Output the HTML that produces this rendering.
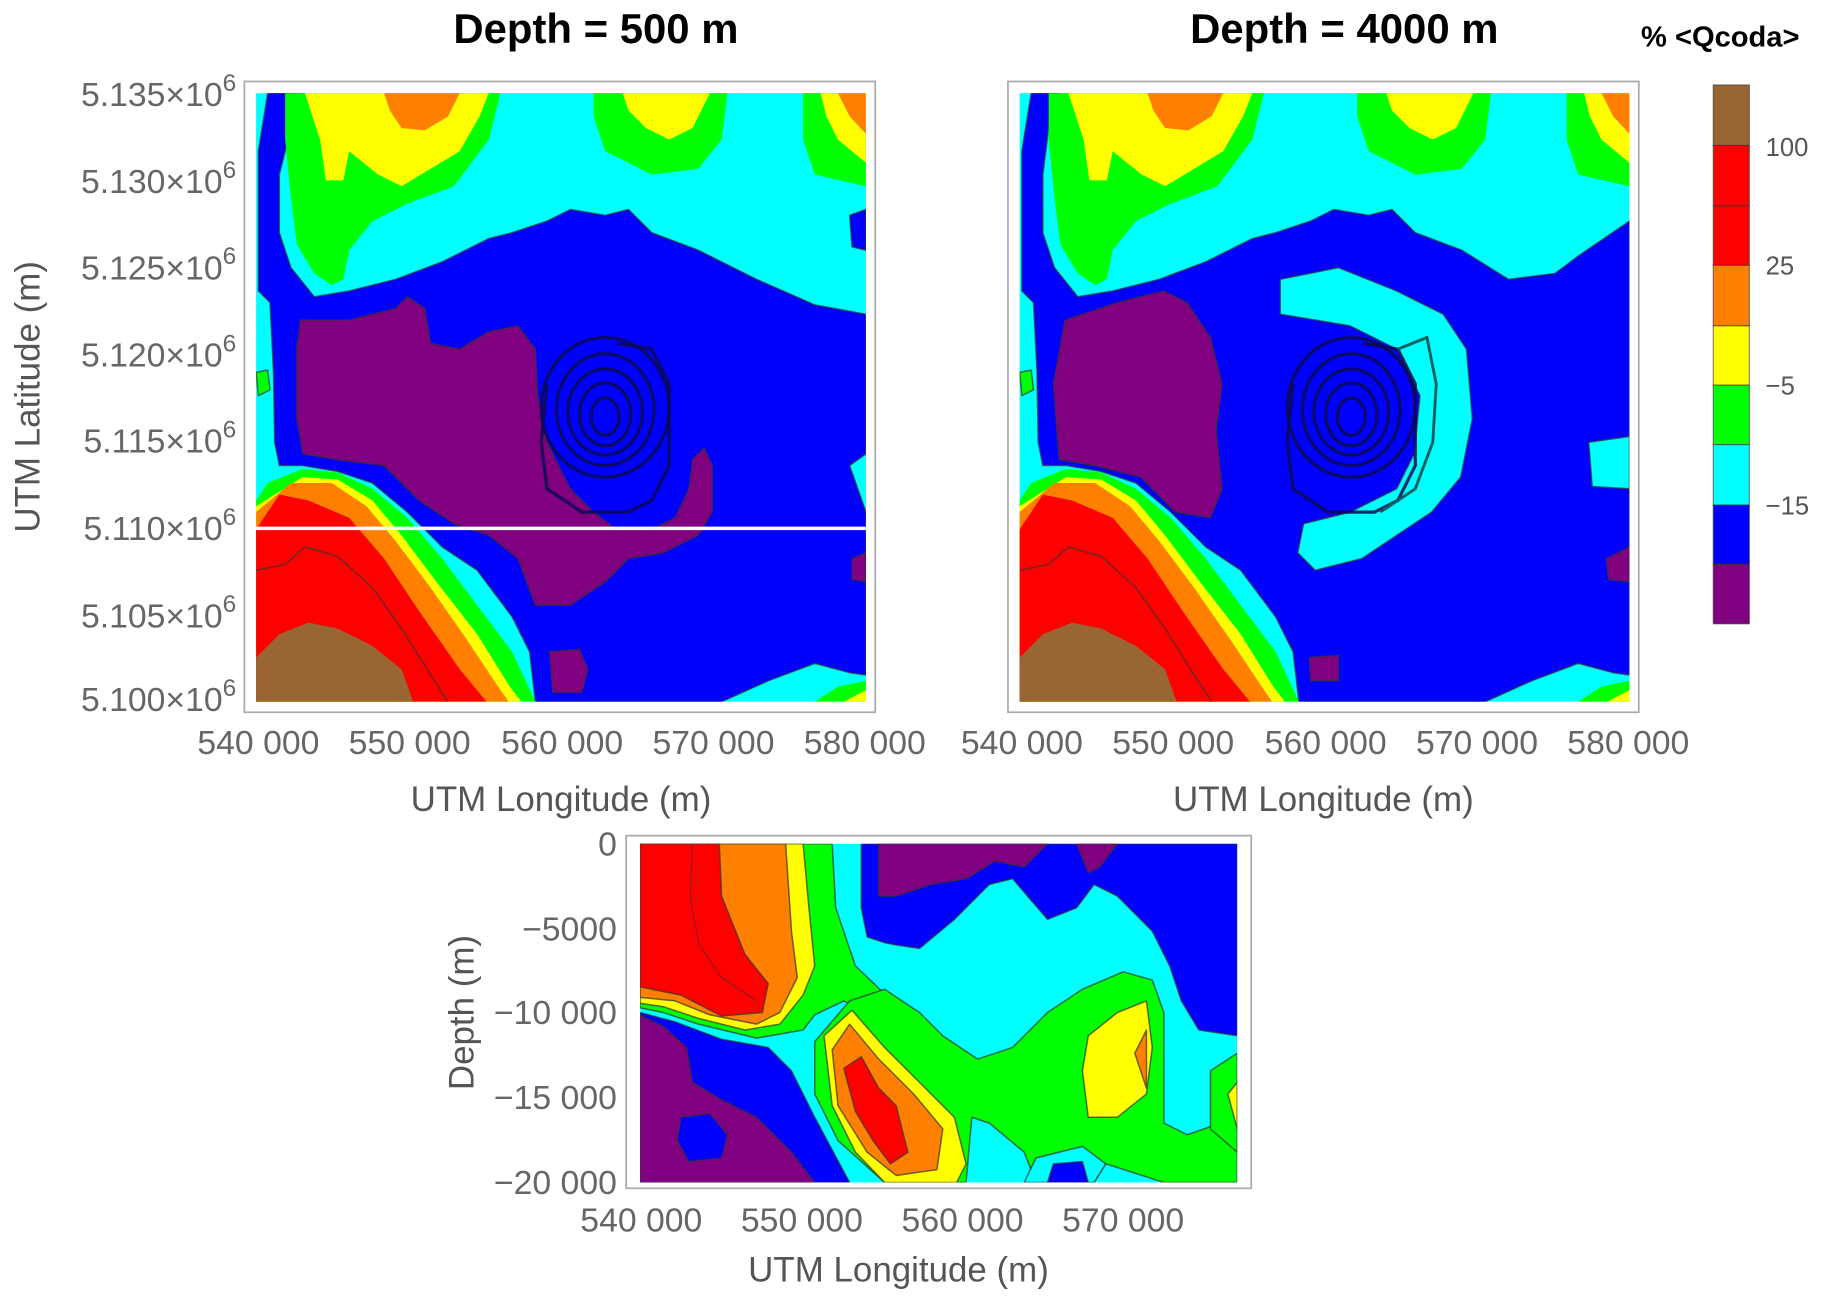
<!DOCTYPE html>
<html><head><meta charset="utf-8"><style>
html,body{margin:0;padding:0;background:#fff;}
svg{display:block;}
text{font-family:"Liberation Sans",sans-serif;}
.t{font-size:29px;fill:#666;}
.al{font-size:30px;fill:#555;}
.ti{font-size:36px;font-weight:bold;fill:#000;}
.c path,.c polygon{stroke:#333;stroke-width:1.3;stroke-opacity:.7;stroke-linejoin:round;}
</style></head><body>
<svg width="1825" height="1300" viewBox="0 0 1568 1117" preserveAspectRatio="none" xmlns="http://www.w3.org/2000/svg">
<defs>
<clipPath id="cp1"><rect x="220" y="80" width="524" height="523"/></clipPath>
<clipPath id="cp3"><rect x="550" y="725" width="513" height="291"/></clipPath>
<g id="top">
 <polygon fill="#00ff00" points="245,80 430,80 420,120 390,160 350,175 320,190 300,215 295,240 285,245 270,235 255,210 250,170 245,120"/>
 <polygon fill="#ffff00" points="262,80 420,80 412,100 395,130 370,145 345,160 325,150 300,130 295,155 280,155 275,120"/>
 <polygon fill="#ff8000" points="330,80 395,80 385,100 365,112 345,110 335,95"/>
 <polygon fill="#00ff00" points="510,80 625,80 620,120 600,145 560,150 520,130 510,100"/>
 <polygon fill="#ffff00" points="535,80 610,80 595,110 575,120 555,110 540,95"/>
 <polygon fill="#00ff00" points="690,80 744,80 744,160 700,150 690,120"/>
 <polygon fill="#ffff00" points="705,80 744,80 744,140 720,120 710,100"/>
 <polygon fill="#ff8000" points="720,80 744,80 744,115 730,100"/>
</g>
<g id="bl">
 <polygon fill="#00ff00" points="220,430 230,415 260,403 290,406 320,420 350,445 380,480 410,520 440,560 460,603 220,603"/>
 <polygon fill="#ffff00" points="220,435 260,410 290,412 320,430 345,460 375,500 410,545 438,590 448,603 220,603"/>
 <polygon fill="#ff8000" points="220,440 250,415 285,415 315,435 340,465 370,505 400,548 428,590 437,603 220,603"/>
 <polygon fill="#ff0000" points="220,455 240,425 265,430 300,445 330,480 360,525 395,575 418,603 220,603"/>
 <polyline fill="none" stroke="#333" stroke-opacity=".7" stroke-width="1.3" points="220,490 245,485 262,470 290,478 320,505 345,540 370,580 385,603"/>
 <polygon fill="#996633" points="220,565 240,545 265,535 290,540 320,555 345,575 355,603 220,603"/>
 <polygon fill="#00ff00" points="700,603 720,590 744,585 744,603"/>
 <polygon fill="#ffff00" points="725,603 744,593 744,603"/>
</g>
<g id="swirl" fill="none" stroke="#0a0a50" stroke-width="2.8" stroke-opacity=".85">
 <ellipse cx="520" cy="350" rx="55" ry="60"/>
 <ellipse cx="520" cy="352" rx="42" ry="48"/>
 <ellipse cx="520" cy="354" rx="32" ry="37"/>
 <ellipse cx="520" cy="356" rx="22" ry="27"/>
 <ellipse cx="520" cy="358" rx="12" ry="16"/>
 <polyline points="470,330 465,380 470,420 500,440 540,440 560,430 575,400 575,330 560,300 530,295"/>
</g>
</defs>

<text class="ti" x="512" y="37" text-anchor="middle">Depth = 500 m</text>
<text class="ti" x="1155" y="37" text-anchor="middle">Depth = 4000 m</text>
<text x="1478" y="40" text-anchor="middle" style="font-size:25px;font-weight:bold;fill:#000">% &lt;Qcoda&gt;</text>

<g clip-path="url(#cp1)" class="c">
 <rect x="220" y="80" width="524" height="523" fill="#00ffff"/>
 <polygon fill="#0000ff" points="230,80 260,80 250,110 240,150 240,200 250,230 270,255 300,250 340,240 380,225 420,205 440,200 470,190 490,180 520,185 540,180 560,200 600,215 650,240 700,262 744,270 744,390 730,400 744,440 744,580 730,578 700,570 660,585 620,603 460,603 455,560 440,530 410,490 380,470 350,440 320,415 290,405 260,400 240,400 236,380 235,320 232,260 222,250 222,130"/>
 <polygon fill="#0000ff" points="730,185 744,180 744,215 732,212"/>
 <polygon fill="#800080" points="258,275 300,275 340,265 350,255 365,265 370,295 395,300 420,285 445,280 460,300 462,340 470,380 490,420 510,440 530,455 560,455 580,445 592,420 595,395 605,385 612,400 612,440 600,460 570,475 540,480 520,500 490,520 460,520 445,480 420,460 390,450 360,430 330,400 290,395 260,390 255,360 255,300"/>
 <polygon fill="#800080" points="472,560 498,558 505,575 500,595 475,595"/>
 <polygon fill="#800080" points="732,480 744,475 744,500 732,498"/>
 <polygon fill="#00ff00" points="220,320 230,318 232,335 222,340"/>
 <use href="#top"/>
 <use href="#bl"/>
 <use href="#swirl"/>
 <line x1="220" y1="454" x2="744" y2="454" stroke="#fff" stroke-width="3"/>
</g>
<rect x="210" y="70" width="542" height="542" fill="none" stroke="#aaa" stroke-width="1.5"/>

<g transform="translate(656,0)">
<g clip-path="url(#cp1)" class="c">
 <rect x="220" y="80" width="524" height="523" fill="#00ffff"/>
 <polygon fill="#0000ff" points="230,80 255,80 245,110 240,150 240,200 250,230 270,255 300,250 340,240 380,225 420,205 440,200 470,190 490,180 520,185 540,180 560,200 600,215 640,240 680,235 700,220 744,190 744,580 730,578 700,570 660,585 620,603 460,603 455,560 440,530 410,490 380,470 350,440 320,415 290,405 260,400 240,400 236,380 235,320 232,260 222,250 222,130"/>
 <polygon fill="#00ffff" points="444,240 494,230 544,250 584,270 604,300 609,360 599,410 574,440 544,460 514,480 474,490 459,475 464,450 504,440 544,420 559,390 564,340 544,300 504,280 474,275 444,270"/>
 <polygon fill="#00ffff" points="709,380 744,375 744,420 712,418"/>
 <polygon fill="#800080" points="259,275 304,260 344,250 364,260 384,290 394,330 389,370 394,420 384,445 354,440 324,410 284,400 254,395 249,330"/>
 <polygon fill="#800080" points="469,565 494,563 494,585 470,585"/>
 <polygon fill="#800080" points="724,480 744,470 744,500 726,498"/>
 <polygon fill="#00ff00" points="220,320 230,318 232,335 222,340"/>
 <use href="#top"/>
 <use href="#bl"/>
 <g transform="translate(-15,0)"><use href="#swirl"/></g>
 <polyline fill="none" stroke="#0a6060" stroke-width="2.5" points="545,300 570,290 578,330 575,380 560,420 530,440"/>
</g>
<rect x="210" y="70" width="542" height="542" fill="none" stroke="#aaa" stroke-width="1.5"/>
</g>

<g class="t" text-anchor="end">
 <text x="203" y="91">5.135×10<tspan dy="-13" font-size="21">6</tspan></text>
 <text x="203" y="166">5.130×10<tspan dy="-13" font-size="21">6</tspan></text>
 <text x="203" y="240">5.125×10<tspan dy="-13" font-size="21">6</tspan></text>
 <text x="203" y="315">5.120×10<tspan dy="-13" font-size="21">6</tspan></text>
 <text x="203" y="389">5.115×10<tspan dy="-13" font-size="21">6</tspan></text>
 <text x="203" y="464">5.110×10<tspan dy="-13" font-size="21">6</tspan></text>
 <text x="203" y="539">5.105×10<tspan dy="-13" font-size="21">6</tspan></text>
 <text x="203" y="611">5.100×10<tspan dy="-13" font-size="21">6</tspan></text>
</g>
<g class="t" text-anchor="middle">
 <text x="222" y="648">540 000</text><text x="352" y="648">550 000</text><text x="483" y="648">560 000</text><text x="613" y="648">570 000</text><text x="743" y="648">580 000</text>
 <text x="878" y="648">540 000</text><text x="1008" y="648">550 000</text><text x="1139" y="648">560 000</text><text x="1269" y="648">570 000</text><text x="1399" y="648">580 000</text>
</g>
<text class="al" x="482" y="697" text-anchor="middle">UTM Longitude (m)</text>
<text class="al" x="1137" y="697" text-anchor="middle">UTM Longitude (m)</text>
<text class="al" transform="translate(34,341) rotate(-90)" text-anchor="middle">UTM Latitude (m)</text>

<g stroke="#333" stroke-opacity=".6" stroke-width="1">
 <rect x="1472" y="73" width="31" height="52" fill="#996633"/>
 <rect x="1472" y="125" width="31" height="52" fill="#ff0000"/>
 <rect x="1472" y="177" width="31" height="51" fill="#ff0000"/>
 <rect x="1472" y="228" width="31" height="52" fill="#ff8000"/>
 <rect x="1472" y="280" width="31" height="51" fill="#ffff00"/>
 <rect x="1472" y="331" width="31" height="51" fill="#00ff00"/>
 <rect x="1472" y="382" width="31" height="52" fill="#00ffff"/>
 <rect x="1472" y="434" width="31" height="51" fill="#0000ff"/>
 <rect x="1472" y="485" width="31" height="51" fill="#800080"/>
</g>
<g style="font-size:22px;fill:#555">
 <text x="1517" y="134">100</text><text x="1517" y="236">25</text><text x="1517" y="339">−5</text><text x="1517" y="442">−15</text>
</g>

<g clip-path="url(#cp3)" class="c">
 <rect x="550" y="725" width="513" height="291" fill="#00ffff"/>
 <polygon fill="#0000ff" points="740,725 1063,725 1063,890 1030,885 1015,860 1005,830 990,800 960,770 940,760 925,780 900,790 870,755 850,760 820,790 790,815 770,812 760,810 745,805 740,780"/>
 <polygon fill="#800080" points="755,725 900,725 880,745 855,740 830,755 800,760 770,770 755,770"/>
 <polygon fill="#800080" points="925,725 960,725 945,745 935,750"/>
 <polygon fill="#00ff00" points="550,725 715,725 718,780 735,830 758,852 745,870 725,860 700,872 690,885 650,892 600,880 570,870 550,866"/>
 <polygon fill="#ffff00" points="550,725 690,725 695,780 700,830 690,855 670,880 640,885 600,875 570,865 550,862"/>
 <polygon fill="#ff8000" points="550,725 675,725 680,800 685,840 670,870 650,880 610,872 580,860 550,857"/>
 <polygon fill="#ff0000" points="550,725 618,725 620,770 640,820 660,845 655,870 620,873 585,855 560,850 550,848"/>
 <polyline fill="none" stroke="#333" stroke-opacity=".6" points="595,725 593,770 600,810 620,840 650,860"/>
 <polygon fill="#0000ff" points="550,870 580,878 620,893 660,900 680,920 700,960 730,1016 550,1016"/>
 <polygon fill="#800080" points="550,872 570,882 590,900 595,930 620,945 650,960 680,990 700,1016 550,1016"/>
 <polygon fill="#0000ff" points="585,960 610,957 625,975 620,995 592,998 582,980"/>
 <polygon fill="#00ff00" points="700,895 730,860 760,850 790,870 810,890 840,910 870,900 900,870 930,850 965,835 990,842 1000,870 1000,940 1000,965 1020,975 1063,960 1063,1016 1000,1016 950,1000 940,1016 890,1016 880,990 850,965 835,960 830,1016 760,1016 720,980 700,940"/>
 <polygon fill="#00ffff" points="880,1016 890,995 930,985 950,1000 940,1016"/>
 <polygon fill="#ffff00" points="708,890 732,868 760,900 790,930 820,960 830,1000 822,1016 760,1016 735,990 715,950"/>
 <polygon fill="#ff8000" points="715,902 730,880 755,910 785,940 810,970 805,1005 770,1010 745,990 720,950"/>
 <polygon fill="#ff0000" points="725,918 740,908 755,935 770,950 780,990 765,1000 750,980 735,955"/>
 <polygon fill="#ffff00" points="935,890 960,870 985,860 990,900 985,940 960,960 935,960 930,920"/>
 <polygon fill="#ff8000" points="975,905 985,885 985,935"/>
 <polygon fill="#00ff00" points="1040,920 1063,905 1063,990 1040,970"/>
 <polygon fill="#ffff00" points="1055,940 1063,930 1063,970"/>
 <polygon fill="#0000ff" points="900,1016 905,1000 930,998 935,1016"/>
</g>
<rect x="538" y="718" width="537" height="303" fill="none" stroke="#aaa" stroke-width="1.5"/>
<g class="t" text-anchor="end">
 <text x="530" y="735">0</text><text x="530" y="808">−5000</text><text x="530" y="880">−10 000</text><text x="530" y="953">−15 000</text><text x="530" y="1026">−20 000</text>
</g>
<g class="t" text-anchor="middle">
 <text x="551" y="1058">540 000</text><text x="689" y="1058">550 000</text><text x="827" y="1058">560 000</text><text x="965" y="1058">570 000</text>
</g>
<text class="al" x="772" y="1101" text-anchor="middle">UTM Longitude (m)</text>
<text class="al" transform="translate(407,870) rotate(-90)" text-anchor="middle">Depth (m)</text>
</svg>
</body></html>
